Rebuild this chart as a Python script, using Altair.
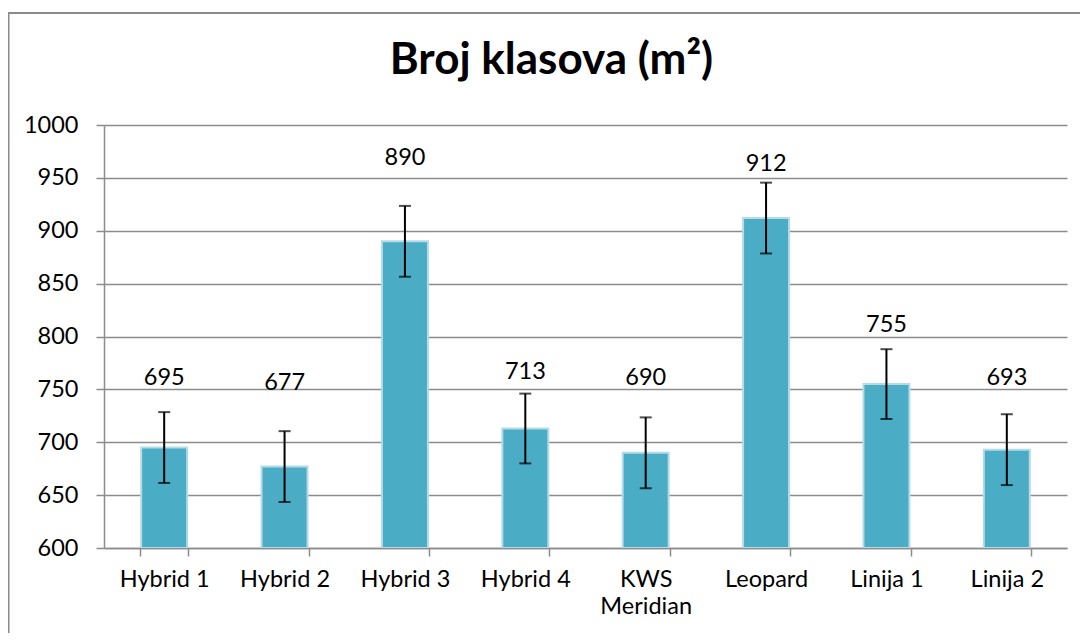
import altair as alt
import pandas as pd

categories = ["Hybrid 1", "Hybrid 2", "Hybrid 3", "Hybrid 4", "KWS Meridian", "Leopard", "Linija 1", "Linija 2"]
values = [695, 677, 890, 713, 690, 912, 755, 693]
errors = [33.5, 33.5, 33.5, 33.0, 33.5, 33.5, 33.0, 33.5]
label_y = [761, 756, 969, 766, 761, 963, 811, 761]
y_ticks = [600, 650, 700, 750, 800, 850, 900, 950, 1000]
title_text = "Broj klasova (m²)"

df = pd.DataFrame({
    "cat": categories,
    "val": values,
    "lo": [v - e for v, e in zip(values, errors)],
    "hi": [v + e for v, e in zip(values, errors)],
    "ly": label_y,
    "lbl": [str(v) for v in values],
})

FONT = "Lato"
GRAY = "#8c8c8c"
FS = 23.5

x_enc = alt.X(
    "cat:N",
    sort=categories,
    title=None,
    scale=alt.Scale(paddingInner=0.6, paddingOuter=0.3),
    axis=alt.Axis(
        labelAngle=0,
        labelFont=FONT,
        labelFontSize=FS,
        labelColor="#000000",
        labelPadding=11,
        labelLineHeight=27,
        labelExpr="datum.label == 'KWS Meridian' ? ['KWS', 'Meridian'] : datum.label",
        tickBand="extent",
        tickSize=8,
        tickColor=GRAY,
        tickWidth=1.5,
        domainColor=GRAY,
        domainWidth=1.5,
        grid=False,
    ),
)

y_scale = alt.Scale(domain=[600, 1000], nice=False, zero=False)

base = alt.Chart(df)

bars = base.mark_bar(
    color="#4BACC6", stroke="#b3dce8", strokeWidth=2, size=46, clip=True
).encode(
    x=x_enc,
    y=alt.Y(
        "val:Q",
        scale=y_scale,
        title=None,
        axis=alt.Axis(
            values=y_ticks,
            format="d",
            labelFont=FONT,
            labelFontSize=FS,
            labelColor="#000000",
            labelPadding=18,
            tickSize=8,
            tickColor=GRAY,
            tickWidth=1.5,
            domainColor=GRAY,
            domainWidth=1.5,
            grid=True,
            gridColor=GRAY,
            gridWidth=1.5,
        ),
    ),
    y2=alt.datum(600),
)

rules = base.mark_rule(color="#000000", strokeWidth=2).encode(
    x=alt.X("cat:N", sort=categories), y="lo:Q", y2="hi:Q"
)
caps_lo = base.mark_tick(color="#000000", size=12, thickness=2).encode(
    x=alt.X("cat:N", sort=categories), y="lo:Q"
)
caps_hi = base.mark_tick(color="#000000", size=12, thickness=2).encode(
    x=alt.X("cat:N", sort=categories), y="hi:Q"
)
labels = base.mark_text(
    font=FONT, fontSize=FS, color="#000000", baseline="middle", align="center"
).encode(x=alt.X("cat:N", sort=categories), y="ly:Q", text="lbl:N")

one = pd.DataFrame({"t": [title_text]})

border = alt.Chart(one).mark_rect(
    fill=None, stroke="#8a8a8a", strokeWidth=2
).encode(
    x=alt.value(-95.5), x2=alt.value(1200), y=alt.value(-112), y2=alt.value(800)
)

title = alt.Chart(one).mark_text(
    font=FONT, fontSize=44, fontWeight="bold", color="#000000",
    align="center", baseline="alphabetic"
).encode(x=alt.value(447.5), y=alt.value(-51), text="t:N")

chart = alt.layer(bars, rules, caps_lo, caps_hi, labels, border, title).properties(
    width=963,
    height=423,
    autosize=alt.AutoSizeParams(type="none"),
    padding={"left": 96, "top": 117, "right": 13, "bottom": 85},
).configure_view(stroke=None)

chart.save("out.html", embed_options={"renderer": "svg", "actions": False})
